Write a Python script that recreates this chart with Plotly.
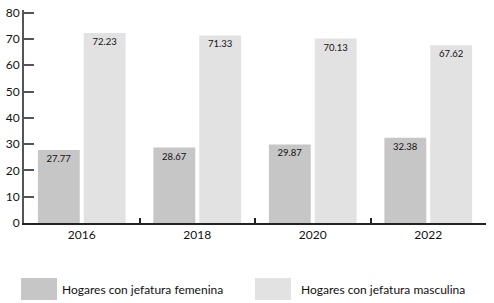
import plotly.graph_objects as go

years = ["2016", "2018", "2020", "2022"]
femenina = [27.77, 28.67, 29.87, 32.38]
masculina = [72.23, 71.33, 70.13, 67.62]
series_names = ["Hogares con jefatura femenina", "Hogares con jefatura masculina"]
colors = ["#c6c6c6", "#e2e2e2"]
FONT = "Lato"

fig = go.Figure()
for vals, name, col in zip([femenina, masculina], series_names, colors):
    fig.add_trace(go.Bar(
        x=years, y=vals, name=name, marker=dict(color=col, line=dict(width=0)),
        text=[f"{v:.2f}" for v in vals], textposition="inside",
        insidetextanchor="end", textangle=0, constraintext="none",
        textfont=dict(family=FONT, size=9.5, color="#111"),
        showlegend=False,
    ))

# legend drawn as boxes + labels below plot
legend_pos = [(-0.0065, 0.0714, 0.078), (0.5, 0.578, 0.595)]
for (x0, x1, tx), name, col in zip(legend_pos, series_names, colors):
    fig.add_shape(type="rect", xref="paper", yref="paper", x0=x0, x1=x1,
                  y0=-0.362, y1=-0.258, fillcolor=col, line=dict(width=0))
    fig.add_annotation(xref="paper", yref="paper", x=tx, y=-0.31, text=name,
                       showarrow=False, xanchor="left", yanchor="middle",
                       font=dict(family=FONT, size=12, color="#111"))

fig.update_layout(
    width=494, height=303,
    margin=dict(l=24, r=8, t=10, b=80),
    barmode="group", bargap=0.206, bargroupgap=0.087,
    plot_bgcolor="white", paper_bgcolor="white",
    font=dict(family=FONT, size=12, color="#111"),
)
fig.update_yaxes(range=[0, 81], tickvals=[0, 10, 20, 30, 40, 50, 60, 70, 80],
                 automargin=False,
                 showgrid=False, zeroline=False, showline=True, linecolor="#555",
                 linewidth=2, ticks="inside", ticklen=10, tickwidth=2, tickcolor="#555",
                 tickfont=dict(family=FONT, size=12, color="#111"))
fig.update_xaxes(showgrid=False, showline=True, linecolor="#222", linewidth=1.5,
                 automargin=False,
                 ticks="inside", tickson="boundaries", ticklen=5, tickwidth=1.5,
                 tickcolor="#222", tickfont=dict(family=FONT, size=12, color="#111"))

fig.write_html("out.html", config={"displayModeBar": False},
               post_script="document.body.style.margin='0';document.body.style.overflow='hidden';")
